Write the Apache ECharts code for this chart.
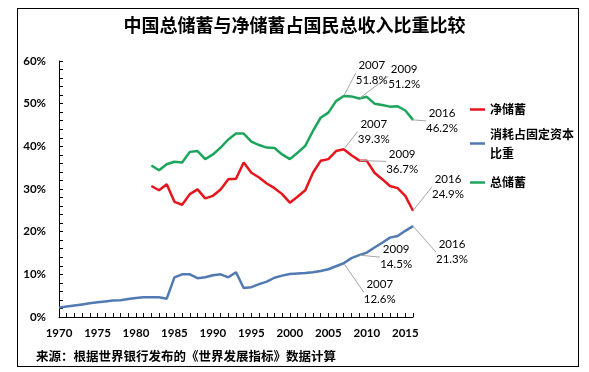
<!DOCTYPE html>
<html><head><meta charset="utf-8">
<script src="https://cdn.jsdelivr.net/npm/echarts@6/dist/echarts.min.js"></script>
<style>
html,body{margin:0;padding:0;background:#fff}
#wrap{position:relative;width:589px;height:372px}
#c{width:589px;height:372px}
#frame{position:absolute;left:17px;top:8px;width:560px;height:357px;border:1px solid #000;pointer-events:none}
</style>
</head><body>
<div id="wrap"><div id="c"></div><div id="frame"></div></div>
<script>
// ---- data ----
const years = ['1970','1971','1972','1973','1974','1975','1976','1977','1978','1979',
  '1980','1981','1982','1983','1984','1985','1986','1987','1988','1989',
  '1990','1991','1992','1993','1994','1995','1996','1997','1998','1999',
  '2000','2001','2002','2003','2004','2005','2006','2007','2008','2009',
  '2010','2011','2012','2013','2014','2015','2016'];
// 净储蓄 (net saving, % of GNI)
const netSaving = [null,null,null,null,null,null,null,null,null,null,
  null,null,30.7,29.7,31.1,27.0,26.3,28.8,29.9,27.8,
  28.4,29.9,32.3,32.4,36.2,33.8,32.7,31.3,30.2,28.8,
  26.8,28.2,29.7,33.8,36.6,37.0,38.9,39.3,37.9,36.7,
  36.6,33.8,32.3,30.7,30.2,28.4,24.9];
// 消耗占固定资本比重 (consumption of fixed capital, % of GNI)
const cfcShare = [2.2,2.45,2.7,2.95,3.2,3.45,3.65,3.85,3.95,4.2,
  4.45,4.65,4.65,4.65,4.3,9.3,10.0,10.0,9.1,9.3,
  9.8,10.0,9.3,10.5,6.8,7.0,7.7,8.3,9.2,9.7,
  10.1,10.2,10.3,10.5,10.8,11.2,11.9,12.6,13.8,14.5,
  15.1,16.3,17.4,18.6,19.0,20.2,21.3];
// 总储蓄 (gross saving, % of GNI)
const grossSaving = [null,null,null,null,null,null,null,null,null,null,
  null,null,35.5,34.4,35.8,36.4,36.2,38.7,38.9,37.0,
  38.1,39.7,41.6,43.0,43.0,41.1,40.3,39.7,39.6,38.1,
  37.0,38.5,40.1,43.6,46.7,47.9,50.6,51.8,51.7,51.2,
  51.6,50.0,49.7,49.3,49.4,48.4,46.2];
const seriesNames = ['净储蓄','消耗占固定资本比重','总储蓄'];
const annotated = [['2007','2009','2016'],['2007','2009','2016'],['2007','2009','2016']];
const yTicks = [0,10,20,30,40,50,60];

// ---- styles / layout (not data) ----
const colors = ['#e8141c','#5179b2','#1ca65c'];
const labelOffsets = [
  {'2007':[30,-18],'2009':[43,1],'2016':[35,-24]},
  {'2007':[36,29],'2009':[37,2],'2016':[39,26]},
  {'2007':[28,-23],'2009':[45,-22],'2016':[29,1]}
];
const numFont = 'Lato';
const cjkFont = '"Noto Sans CJK SC"';

function buildData(values, sIdx){
  return values.map((v,i)=>{
    if (v === null) return '-';
    if (annotated[sIdx].indexOf(years[i]) >= 0) {
      return {value:v, symbol:'circle', symbolSize:1, label:{show:true}};
    }
    return v;
  });
}
const allValues = [netSaving, cfcShare, grossSaving];

const legendText = {fontFamily:cjkFont, fontSize:12, fontWeight:'bold', color:'#000', lineHeight:19};
const chart = echarts.init(document.getElementById('c'), null, {renderer:'canvas'});
const option = {
  animation:false,
  backgroundColor:'#fff',
  title:[
    {text:'中国总储蓄与净储蓄占国民总收入比重比较', left:'center', top:11,
     textStyle:{fontFamily:cjkFont, fontSize:18, fontWeight:'bold', color:'#000'}},
    {text:'来源：根据世界银行发布的《世界发展指标》数据计算', left:31, top:345,
     textStyle:{fontFamily:cjkFont, fontSize:12.5, fontWeight:'bold', color:'#000'}}
  ],
  legend:[
    {data:[seriesNames[0]], orient:'vertical', left:470, top:100, padding:0,
     icon:'rect', itemWidth:15, itemHeight:2.5, textStyle:legendText},
    {data:[{name:seriesNames[1], textStyle:{padding:[19,0,0,0]}}], orient:'vertical', left:470, top:115, padding:0,
     icon:'rect', itemWidth:15, itemHeight:2.5,
     formatter:function(n){return '消耗占固定资本\n比重';},
     textStyle:legendText},
    {data:[seriesNames[2]], orient:'vertical', left:470, top:173, padding:0,
     icon:'rect', itemWidth:15, itemHeight:2.5, textStyle:legendText}
  ],
  grid:{left:59, right:176, top:61, bottom:55},
  xAxis:{
    type:'category', data:years, boundaryGap:false,
    axisLine:{show:true, lineStyle:{color:'#000', width:1}},
    axisTick:{show:true, inside:true, interval:0, length:4, lineStyle:{color:'#000'}},
    axisLabel:{interval:4, margin:10, fontFamily:numFont, fontSize:11.5, fontWeight:'bold', color:'#000'},
    splitLine:{show:false}
  },
  yAxis:{
    type:'value', min:yTicks[0], max:yTicks[yTicks.length-1], interval:10,
    axisLine:{show:true, lineStyle:{color:'#000', width:1}},
    axisTick:{show:true, inside:true, length:4, lineStyle:{color:'#000'}},
    minorTick:{show:true, splitNumber:5, length:4, lineStyle:{color:'#000'}},
    axisLabel:{formatter:'{value}%', margin:13, fontFamily:numFont, fontSize:11.5, fontWeight:'bold', color:'#000'},
    splitLine:{show:false}, minorSplitLine:{show:false}
  },
  series: seriesNames.map((name, sIdx)=>({
    name:name, type:'line', data:buildData(allValues[sIdx], sIdx),
    symbol:'none', showSymbol:true, showAllSymbol:true, connectNulls:false,
    color:colors[sIdx],
    lineStyle:{color:colors[sIdx], width:2.5},
    itemStyle:{color:colors[sIdx]},
    label:{show:false, fontFamily:numFont, fontSize:11.5, color:'#000', lineHeight:15,
      formatter:function(p){return years[p.dataIndex] + '\n' + Number(p.value).toFixed(1) + '%';}},
    labelLine:{show:true, lineStyle:{color:'#a6a6a6', width:1}},
    labelLayout:function(params){
      const y = years[params.dataIndex];
      const off = labelOffsets[sIdx][y] || [0,-15];
      return {x: params.rect.x + params.rect.width/2 + off[0],
              y: params.rect.y + params.rect.height/2 + off[1],
              align:'center', verticalAlign:'middle'};
    },
    emphasis:{disabled:true}
  }))
};
chart.setOption(option);
</script>
</body></html>
